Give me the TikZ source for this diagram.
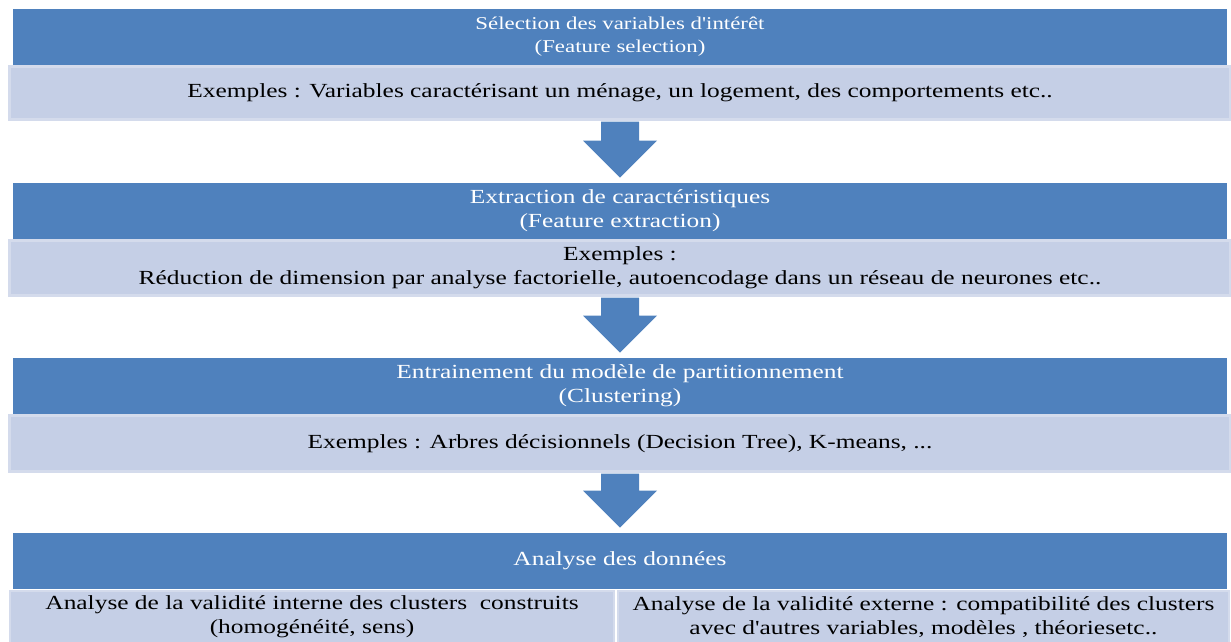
\documentclass[tikz,border=0pt]{standalone}
\usepackage{fontspec}
\setmainfont{Liberation Serif}[FakeStretch=1.27, Ligatures=TeXOff]
\usepackage{tikz}
\usetikzlibrary{positioning,calc}
\definecolor{bleu}{RGB}{79,129,189}
\definecolor{clair}{RGB}{197,207,230}
\definecolor{bord}{RGB}{212,219,236}
\newcommand{\petit}{\fontsize{18pt}{23pt}\selectfont}
\newcommand{\grand}{\fontsize{20pt}{24pt}\selectfont}

\begin{document}
\begin{tikzpicture}[x=1pt, y=-1pt,
    titre/.style={fill=bleu, text=white, minimum width=1214pt,
      minimum height=56pt, inner sep=0, align=center, font=\grand},
    bande/.style={fill=clair, draw=bord, line width=2.5pt, minimum
      width=1221pt, minimum height=53pt, inner sep=0, align=center,
      font=\grand}]
  \useasboundingbox (0,0) rectangle (1231,641);
  % les quatre etapes
  \node[titre, font=\petit] (titre1) at (620,37)
    {S\'election des variables d'int\'er\^et\\(Feature selection)};
  \node[bande, below=0pt of titre1] (bande1)
    {\raisebox{-4pt}{Exemples : Variables caract\'erisant un m\'enage, un logement, des comportements etc..}};
  \node[titre, below=62pt of bande1] (titre2)
    {Extraction de caract\'eristiques\\(Feature extraction)};
  \node[bande, below=0pt of titre2, minimum height=55pt] (bande2)
    {Exemples :\\R\'eduction de dimension par analyse factorielle, autoencodage dans un r\'eseau de neurones etc..};
  \node[titre, below=61pt of bande2] (titre3)
    {Entrainement du mod\`ele de partitionnement\\(Clustering)};
  \node[bande, below=0pt of titre3, minimum height=56pt] (bande3)
    {Exemples : Arbres d\'ecisionnels (Decision Tree), K-means, ...};
  \node[titre, below=60pt of bande3] (titre4) {Analyse des donn\'ees};
  \node[bande, minimum width=604pt, minimum height=52pt, anchor=north west]
    (gauche4) at ($(titre4.south west)+(-4,1)$)
    {Analyse de la validit\'e interne des clusters\ \ construits\\(homog\'en\'eit\'e, sens)};
  \node[bande, minimum width=611pt, minimum height=52pt, anchor=north east]
    (droite4) at ($(titre4.south east)+(3,1)$)
    {Analyse de la validit\'e externe : compatibilit\'e des clusters\\avec d'autres variables, mod\`eles , th\'eoriesetc..};
  % fleches
  \foreach \a/\b in {bande1/titre2, bande2/titre3, bande3/titre4} {
    \coordinate (haut) at ($(\a.south)+(0,1)$);
    \coordinate (pointe) at ($(\b.north)+(0,-5)$);
    \fill[bleu] ($(haut)+(-19,0)$) -- ($(haut)+(19,0)$)
      -- ($(pointe)+(19,-37)$) -- ($(pointe)+(37,-37)$) -- (pointe)
      -- ($(pointe)+(-37,-37)$) -- ($(pointe)+(-19,-37)$) -- cycle;
  }
\end{tikzpicture}
\end{document}
